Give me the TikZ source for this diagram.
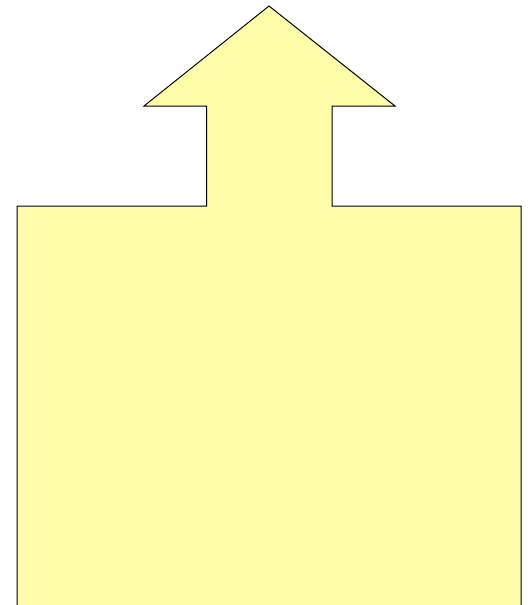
\documentclass[tikz,border=0pt]{standalone}
\usepackage{tikz}
\definecolor{yellowpale}{HTML}{FFFCAA}

\begin{document}
\begin{tikzpicture}[x=1pt,y=-1pt]
  \useasboundingbox (0,0) rectangle (529,605);
  \clip (0,0) rectangle (529,605);
  % house body with the arrow on top
  \draw[fill=yellowpale,line width=1pt,line join=miter]
    (17,612) -- (17,206) -- (206.5,206) -- (206.5,106) -- (144,106) -- (269,6)
    -- (395,106) -- (332,106) -- (332,206) -- (521,206) -- (521,612);
\end{tikzpicture}
\end{document}
